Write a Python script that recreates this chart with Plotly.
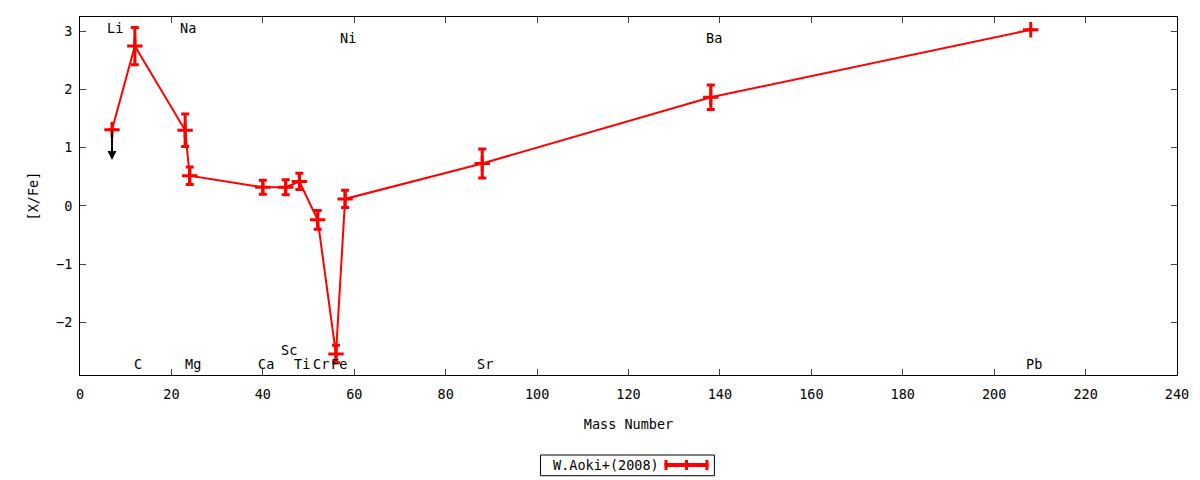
import plotly.graph_objects as go

# W.Aoki+(2008) abundances
elements = ['Li', 'C', 'Na', 'Mg', 'Ca', 'Sc', 'Ti', 'Cr', 'Fe', 'Ni', 'Sr', 'Ba', 'Pb']
mass_number = [7, 12, 23, 24, 40, 45, 48, 52, 56, 58, 88, 138, 208]
x_fe = [1.31, 2.75, 1.30, 0.52, 0.32, 0.32, 0.42, -0.24, -2.55, 0.12, 0.73, 1.87, 3.03]
x_fe_err = [None, 0.32, 0.28, 0.15, 0.12, 0.13, 0.14, 0.16, 0.15, 0.15, 0.25, 0.21, None]
upper_limit = [True, False, False, False, False, False, False, False, False, False, False, False, False]
label_row = ['top', 'bottom', 'top', 'bottom', 'bottom', 'bottom2', 'bottom', 'bottom',
             'bottom', 'top2', 'bottom', 'top2', 'bottom']

fonte = dict(family='DejaVu Sans Mono', size=13.5, color='black')
row_y = {'top': 3.06, 'top2': 2.89, 'bottom2': -2.48, 'bottom': -2.72}

fig = go.Figure()
fig.add_trace(go.Scatter(
    x=mass_number, y=x_fe, mode='lines+markers', name='W.Aoki+(2008)',
    line=dict(color='red', width=2),
    marker=dict(symbol='cross-thin', size=11, color='red', line=dict(color='red', width=3)),
    error_y=dict(type='data', array=x_fe_err, visible=True, color='red', thickness=3, width=4),
    showlegend=False,
))

# upper limits (arrow down)
for m, v, lim in zip(mass_number, x_fe, upper_limit):
    if lim:
        fig.add_annotation(x=m, y=v - 0.52, ax=m, ay=v, xref='x', yref='y', axref='x', ayref='y',
                           text='', showarrow=True, arrowhead=2, arrowsize=0.9, arrowwidth=2,
                           arrowcolor='black')

# element names
for el, m, r in zip(elements, mass_number, label_row):
    fig.add_annotation(x=m, y=row_y[r], text=el, showarrow=False, xshift=3, font=fonte)

# legend box like gnuplot (text left, sample right)
fig.add_shape(type='rect', xref='paper', yref='paper', x0=0.4198, x1=0.5783, y0=-0.2813, y1=-0.2235,
              line=dict(color='black', width=1))
fig.add_annotation(xref='paper', yref='paper', x=0.4295, y=-0.2514, text='W.Aoki+(2008)',
                   showarrow=False, xanchor='left', yanchor='middle', font=fonte)
fig.add_shape(type='line', xref='paper', yref='paper', x0=0.5328, x1=0.5729, y0=-0.2514, y1=-0.2514,
              line=dict(color='red', width=4))
for xp in [0.5342, 0.5529, 0.5715]:
    fig.add_shape(type='line', xref='paper', yref='paper', x0=xp, x1=xp, y0=-0.2654, y1=-0.2374,
                  line=dict(color='red', width=3))

fig.update_xaxes(range=[0, 240], dtick=20, ticks='inside', ticklen=6, mirror='ticks',
                 showline=True, linecolor='black', linewidth=1, showgrid=False, zeroline=False,
                 tickfont=fonte, ticklabelstandoff=7,
                 title=dict(text='Mass Number', font=fonte, standoff=18))
fig.update_yaxes(range=[-2.91, 3.25], dtick=1, ticks='inside', ticklen=6, mirror='ticks',
                 showline=True, linecolor='black', linewidth=1, showgrid=False, zeroline=False,
                 tickfont=fonte, ticklabelstandoff=4,
                 title=dict(text='[X/Fe]', font=fonte, standoff=14))
# page has an 8px body margin, so the figure is 8px smaller and shifted
fig.update_layout(width=1192, height=472, margin=dict(l=72, r=23, t=9, b=105),
                  plot_bgcolor='white', paper_bgcolor='white', font=fonte)

fig.write_html("out.html")
